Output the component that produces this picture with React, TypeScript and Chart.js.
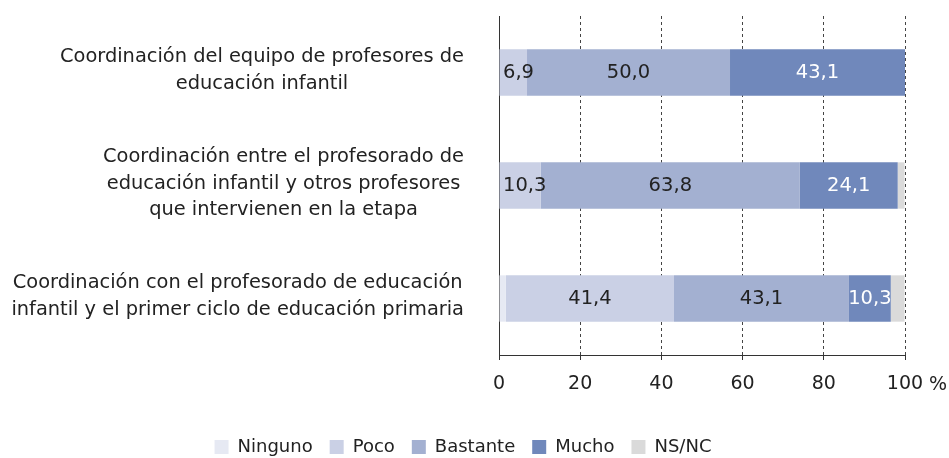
import React, { useEffect, useRef } from "react";
import { Chart, registerables } from "chart.js";
Chart.register(...registerables);

const categories: string[][] = [
  ["Coordinación del equipo de profesores de", "educación infantil"],
  ["Coordinación entre el profesorado de", "educación infantil y otros profesores", "que intervienen en la etapa"],
  ["Coordinación con el profesorado de educación", "infantil y el primer ciclo de educación primaria"],
];
const seriesNames = ["Ninguno", "Poco", "Bastante", "Mucho", "NS/NC"];
const ninguno = [0, 0, 1.7];
const poco = [6.9, 10.3, 41.4];
const bastante = [50.0, 63.8, 43.1];
const mucho = [43.1, 24.1, 10.3];
const nsnc = [0, 1.7, 3.4];
const xTicks = [0, 20, 40, 60, 80, 100];
const unitLabel = "%";

const seriesValues = [ninguno, poco, bastante, mucho, nsnc];
const colors = ["#e6e9f3", "#cad0e5", "#a3b0d1", "#7088bb", "#dadada"];
const labelColors = ["#222222", "#222222", "#222222", "#ffffff", "#222222"];
const FONT_FAMILY = "'DejaVu Sans', Verdana, sans-serif";
const CAT_SIZE = 19.4;
const VAL_SIZE = 19.5;
const TICK_SIZE = 19;
const LEGEND_SIZE = 18;
const TEXT = "#222222";

export default function App() {
  const ref = useRef<HTMLCanvasElement | null>(null);
  useEffect(() => {
    if (!ref.current) return;
    Chart.defaults.font.family = FONT_FAMILY;
    Chart.defaults.color = TEXT;

    const valueLabels = {
      id: "valueLabels",
      afterDatasetsDraw(chart: any) {
        const ctx = chart.ctx;
        ctx.save();
        ctx.font = `${VAL_SIZE}px ${FONT_FAMILY}`;
        ctx.textAlign = "center";
        ctx.textBaseline = "middle";
        const left = chart.chartArea.left;
        chart.data.datasets.forEach((ds: any, di: number) => {
          const meta = chart.getDatasetMeta(di);
          meta.data.forEach((el: any, i: number) => {
            const v = ds.data[i];
            if (v < 5) return;
            const { x, base, y } = el.getProps(["x", "base", "y"], true);
            const txt = v.toFixed(1).replace(".", ",");
            const w = ctx.measureText(txt).width;
            const cx = Math.max((x + base) / 2, left + w / 2 + 4);
            ctx.fillStyle = labelColors[di];
            ctx.fillText(txt, cx, y);
          });
        });
        ctx.restore();
      },
    };

    const catLabels = {
      id: "catLabels",
      afterDraw(chart: any) {
        const ctx = chart.ctx;
        const ys = chart.scales.y;
        const xs = chart.scales.x;
        ctx.save();
        ctx.font = `${CAT_SIZE}px ${FONT_FAMILY}`;
        ctx.fillStyle = TEXT;
        ctx.textAlign = "center";
        ctx.textBaseline = "middle";
        const lh = 26.7;
        const rightEdge = ys.right - 35;
        categories.forEach((lines, i) => {
          const cy = ys.getPixelForValue(i) - 2;
          const w = Math.max(...lines.map((l) => ctx.measureText(l).width));
          const cx = rightEdge - w / 2;
          lines.forEach((l, j) => {
            ctx.fillText(l, cx, cy + (j - (lines.length - 1) / 2) * lh);
          });
        });
        const last = xTicks[xTicks.length - 1];
        ctx.font = `${TICK_SIZE}px ${FONT_FAMILY}`;
        ctx.textAlign = "left";
        ctx.fillText(unitLabel, xs.getPixelForValue(last) + 24, xs.top + 30);
        ctx.restore();
      },
    };

    const chart = new Chart(ref.current, {
      type: "bar",
      data: {
        labels: categories.map((c) => c.join(" ")),
        datasets: seriesNames.map((name, i) => ({
          label: name,
          data: seriesValues[i],
          backgroundColor: colors[i],
          borderWidth: 0,
          categoryPercentage: 0.5,
          barPercentage: 0.82,
        })),
      },
      options: {
        indexAxis: "y",
        animation: false,
        responsive: true,
        maintainAspectRatio: false,
        layout: { padding: { top: 16, right: 44, bottom: 0, left: 21 } },
        plugins: {
          legend: {
            position: "bottom",
            labels: {
              boxWidth: 14,
              boxHeight: 14,
              padding: 17,
              color: TEXT,
              font: { size: LEGEND_SIZE, family: FONT_FAMILY },
            },
          },
          tooltip: { enabled: false },
        },
        scales: {
          x: {
            stacked: true,
            min: 0,
            max: 100,
            afterBuildTicks: (s: any) => {
              s.ticks = xTicks.map((v) => ({ value: v }));
            },
            afterFit: (s: any) => {
              s.height = 66;
            },
            ticks: {
              padding: 13,
              color: TEXT,
              font: { size: TICK_SIZE, family: FONT_FAMILY },
            },
            grid: {
              color: "#444444",
              lineWidth: 1,
              tickLength: 5,
              tickColor: "#333333",
              tickBorderDash: [],
            },
            border: { color: "#333333", width: 1, dash: [3, 3] },
          },
          y: {
            stacked: true,
            afterFit: (s: any) => {
              s.width = 478;
            },
            ticks: { color: "rgba(0,0,0,0)" },
            grid: { display: false, drawTicks: false },
            border: { color: "#333333", width: 1 },
          },
        },
      },
      plugins: [valueLabels, catLabels],
    });
    return () => chart.destroy();
  }, []);

  return (
    <div style={{ position: "fixed", left: 0, top: 0, width: 949, height: 466, background: "#fff" }}>
      <canvas ref={ref} />
    </div>
  );
}
